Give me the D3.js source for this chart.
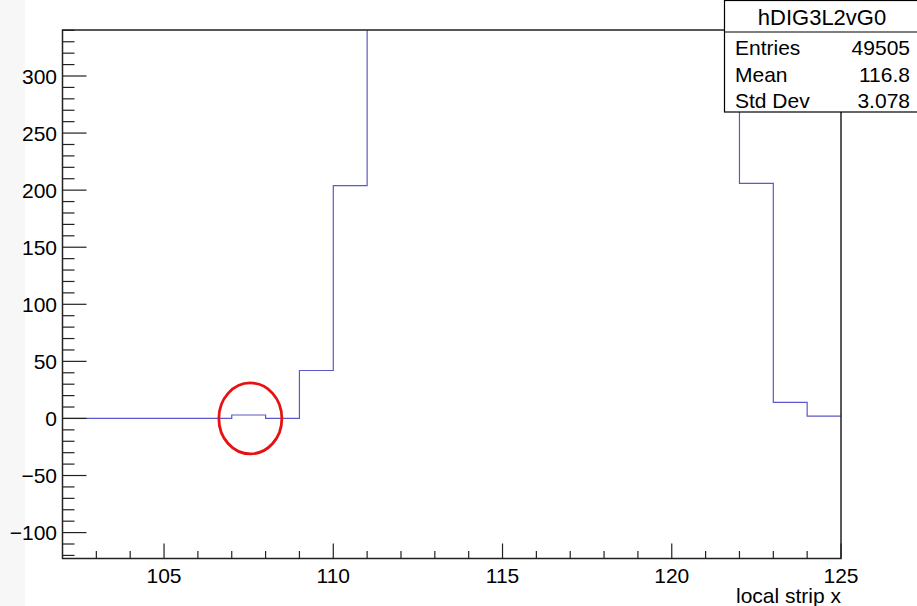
<!DOCTYPE html>
<html>
<head>
<meta charset="utf-8">
<script src="https://cdn.jsdelivr.net/npm/d3@7"></script>
<style>
  body { margin: 0; background: #fff; }
  text { font-family: "Liberation Sans", Arial, sans-serif; fill: #000; }
</style>
</head>
<body>
<div id="chart"></div>
<script>
const width = 917;
const height = 606;

// bin low edges (width 1) and contents
const binEdges = [102, 103, 104, 105, 106, 107, 108, 109, 110, 111, 112, 113, 114, 115, 116, 117, 118, 119, 120, 121, 122, 123, 124];
const binValues = [0, 0, 0, 0, 0, 3, 0, 42, 204, 4300, 4400, 4350, 4450, 4500, 4400, 4550, 4500, 4450, 4600, 4550, 206, 14, 2];
const xTicks = [105, 110, 115, 120, 125];
const yTicks = [-100, -50, 0, 50, 100, 150, 200, 250, 300];
const statNames = ['Entries', 'Mean', 'Std Dev'];
const statValues = ['49505', '116.8', '3.078'];
const histName = 'hDIG3L2vG0';

const margin = { left: 62.5, right: 841, top: 30, bottom: 558.5 };

const svg = d3.select('#chart')
  .append('svg')
  .attr('width', width)
  .attr('height', height)

svg.append('rect')
  .attr('x', 0).attr('y', 0)
  .attr('width', 25).attr('height', height)
  .attr('fill', '#f7f7f7')

const x = d3.scaleLinear()
  .domain([102, 125])
  .range([margin.left, margin.right])

const y = d3.scaleLinear()
  .domain([-122.7, 340.3])
  .range([margin.bottom, margin.top])

svg.append('clipPath')
  .attr('id', 'plotclip')
  .append('rect')
  .attr('x', margin.left)
  .attr('y', margin.top)
  .attr('width', margin.right - margin.left)
  .attr('height', margin.bottom - margin.top)

// step outline of histogram
const pts = [];
binEdges.forEach((e, i) => {
  pts.push([x(e), y(binValues[i])]);
  pts.push([x(e + 1), y(binValues[i])]);
});

svg.append('path')
  .attr('clip-path', 'url(#plotclip)')
  .attr('d', d3.line()(pts))
  .attr('fill', 'none')
  .attr('stroke', '#5a5ac6')
  .attr('stroke-width', 1.2)

// frame
svg.append('rect')
  .attr('x', margin.left)
  .attr('y', margin.top)
  .attr('width', margin.right - margin.left)
  .attr('height', margin.bottom - margin.top)
  .attr('fill', 'none')
  .attr('stroke', '#222')
  .attr('stroke-width', 1.5)

// y ticks
const yMinor = d3.range(-120, 341, 10);
svg.append('g')
  .selectAll('line')
  .data(yMinor)
  .join('line')
  .attr('x1', margin.left)
  .attr('x2', (d) => margin.left + (d % 50 === 0 ? 24 : 12))
  .attr('y1', (d) => y(d))
  .attr('y2', (d) => y(d))
  .attr('stroke', '#222')
  .attr('stroke-width', 1.2)

svg.append('g')
  .selectAll('text')
  .data(yTicks)
  .join('text')
  .attr('x', 57)
  .attr('y', (d) => y(d))
  .attr('dy', '0.36em')
  .attr('text-anchor', 'end')
  .style('font-size', '21px')
  .text((d) => d < 0 ? '\u2212' + Math.abs(d) : d)

// x ticks
const xMinor = d3.range(103, 126, 1);
svg.append('g')
  .selectAll('line')
  .data(xMinor)
  .join('line')
  .attr('x1', (d) => x(d))
  .attr('x2', (d) => x(d))
  .attr('y1', margin.bottom)
  .attr('y2', (d) => margin.bottom - (d % 5 === 0 ? 15 : 7.5))
  .attr('stroke', '#222')
  .attr('stroke-width', 1.2)

svg.append('g')
  .selectAll('text')
  .data(xTicks)
  .join('text')
  .attr('x', (d) => x(d))
  .attr('y', 583)
  .attr('text-anchor', 'middle')
  .style('font-size', '21px')
  .text((d) => d)

svg.append('text')
  .attr('x', margin.right)
  .attr('y', 603)
  .attr('text-anchor', 'end')
  .style('font-size', '21px')
  .text('local strip x')

// red circle annotation
svg.append('ellipse')
  .attr('cx', x(107.55))
  .attr('cy', y(0))
  .attr('rx', 31.5)
  .attr('ry', 35.5)
  .attr('fill', 'none')
  .attr('stroke', '#e81010')
  .attr('stroke-width', 2.8)

// stats box
const box = svg.append('g');
box.append('rect')
  .attr('x', 724.5).attr('y', 0.5)
  .attr('width', 200).attr('height', 111.5)
  .attr('fill', '#fff')
  .attr('stroke', '#000')
  .attr('stroke-width', 1.2)
box.append('line')
  .attr('x1', 724.5).attr('x2', 917)
  .attr('y1', 32).attr('y2', 32)
  .attr('stroke', '#000')
  .attr('stroke-width', 1.2)
box.append('text')
  .attr('x', 822)
  .attr('y', 25)
  .attr('text-anchor', 'middle')
  .style('font-size', '22px')
  .text(histName)
statNames.forEach((name, i) => {
  box.append('text')
    .attr('x', 735)
    .attr('y', 55 + i * 26.5)
    .style('font-size', '21px')
    .text(name)
  box.append('text')
    .attr('x', 910)
    .attr('y', 55 + i * 26.5)
    .attr('text-anchor', 'end')
    .style('font-size', '21px')
    .text(statValues[i])
});
</script>
</body>
</html>
